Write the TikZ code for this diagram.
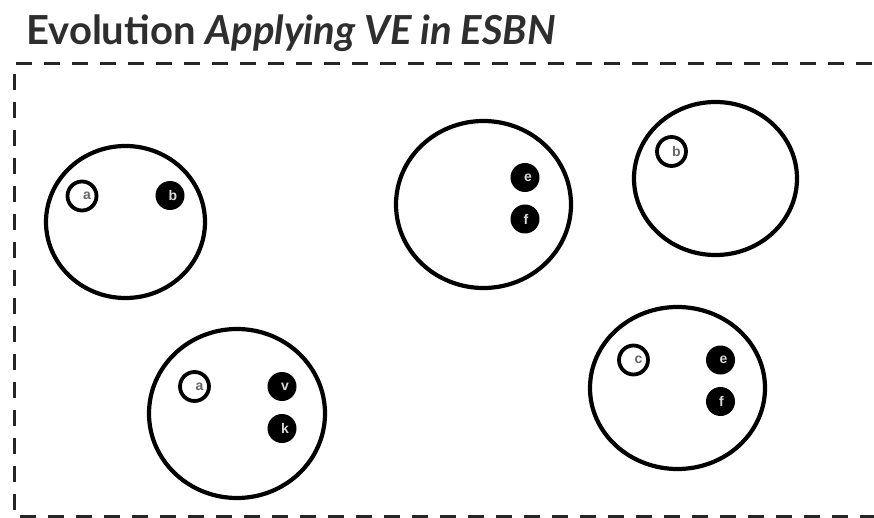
\documentclass[tikz,border=0pt]{standalone}
\usepackage{fontspec}
\setmainfont{Lato}
\newfontfamily\lblfont{Liberation Sans}
\usetikzlibrary{shapes.geometric}
\tikzset{
  big/.style={draw=black, line width=4.2pt, ellipse, inner sep=0pt},
  wdot/.style={draw=black, fill=white, line width=3.8pt, circle, inner sep=0pt, minimum size=29pt},
  bdot/.style={fill=black, circle, inner sep=0pt, minimum size=29pt},
  wlbl/.style={font=\lblfont\bfseries\fontsize{14}{14}\selectfont, text=black!60, inner sep=0pt},
  blbl/.style={font=\lblfont\bfseries\fontsize{14}{14}\selectfont, text=white!85!black, inner sep=0pt},
  frame/.style={draw=black!85, line width=3pt, dash pattern=on 16pt off 12pt}
}
\begin{document}
\begin{tikzpicture}[x=1pt,y=-1pt]
\useasboundingbox (0,0) rectangle (874,518);
\begin{scope}
\clip (0,0) rectangle (874,518);
\draw[frame] (900,64) -- (14,64) -- (14,516.5) -- (900,516.5);
\end{scope}
\node[anchor=base west, inner sep=0pt, text=black!82, font=\fontsize{40}{44}\selectfont\bfseries] (title) at (26,45) {Evolution \textit{Applying VE in ESBN}};
% big circles
\node[big, minimum width=159pt, minimum height=152pt] (c1) at (125.5,222) {};
\node[big, minimum width=175pt, minimum height=167pt] (c2) at (483.5,204.5) {};
\node[big, minimum width=163pt, minimum height=153pt] (c3) at (715.5,178.5) {};
\node[big, minimum width=176pt, minimum height=169pt] (c4) at (237,413.5) {};
\node[big, minimum width=175pt, minimum height=162pt] (c5) at (677.5,388) {};
% small dots
\node[wdot] (a1) at (82,196) {};
\node[wlbl] at ([xshift=5pt]a1.center) {a};
\node[bdot] (b1) at (170,195.5) {};
\node[blbl] at ([xshift=3pt]b1.center) {b};
\node[bdot] (e2) at (525,177.5) {};
\node[blbl] at ([xshift=3pt]e2.center) {e};
\node[bdot] (f2) at (525,219) {};
\node[blbl] at ([xshift=1pt]f2.center) {f};
\node[wdot] (b3) at (671.5,151.5) {};
\node[wlbl] at ([xshift=5pt]b3.center) {b};
\node[wdot] (a4) at (194.5,386.5) {};
\node[wlbl] at ([xshift=5pt]a4.center) {a};
\node[bdot] (v4) at (282,386.5) {};
\node[blbl] at ([xshift=3pt]v4.center) {v};
\node[bdot] (k4) at (282,428.5) {};
\node[blbl] at ([xshift=3pt]k4.center) {k};
\node[wdot] (c5d) at (633.5,360) {};
\node[wlbl] at ([xshift=5pt]c5d.center) {c};
\node[bdot] (e5) at (720.5,360) {};
\node[blbl] at ([xshift=3pt]e5.center) {e};
\node[bdot] (f5) at (720.5,401.5) {};
\node[blbl] at ([xshift=1pt]f5.center) {f};
\end{tikzpicture}
\end{document}
